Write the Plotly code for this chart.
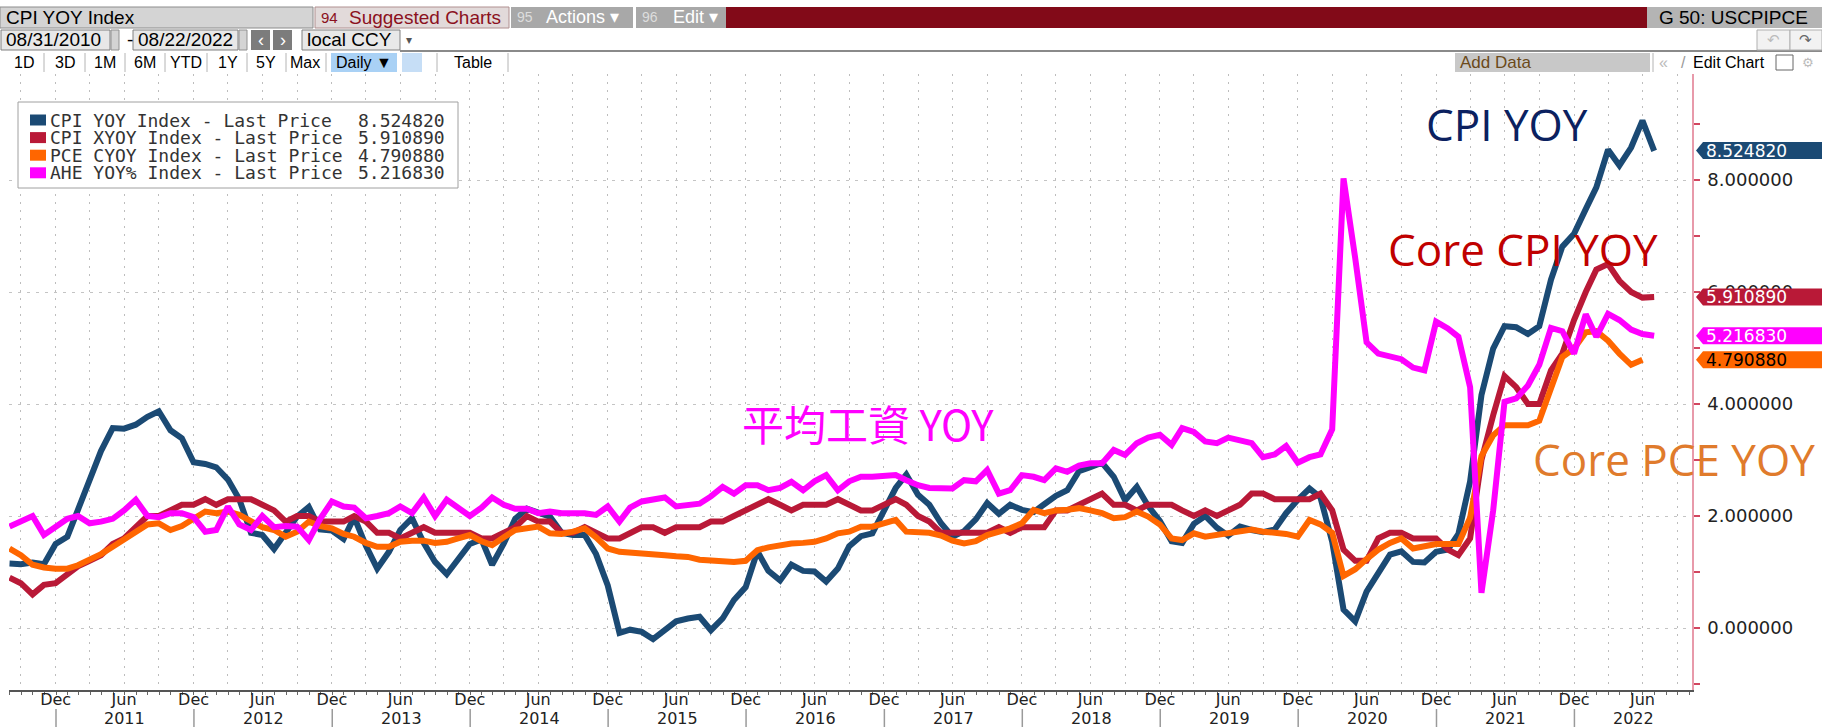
import plotly.graph_objects as go
import pandas as pd

# ---------------- data (monthly, month-end) ----------------
START = "2010-08-31"
CPI_YOY = [1.15, 1.14, 1.17, 1.14, 1.50,
           1.63, 2.11, 2.68, 3.16, 3.57, 3.56, 3.63, 3.77, 3.87, 3.53, 3.39, 2.96,
           2.93, 2.87, 2.65, 2.30, 1.70, 1.66, 1.41, 1.69, 1.99, 2.16, 1.76, 1.74,
           1.59, 1.98, 1.47, 1.06, 1.36, 1.75, 1.96, 1.52, 1.18, 0.96, 1.24, 1.50,
           1.58, 1.13, 1.51, 1.95, 2.13, 2.07, 1.99, 1.70, 1.66, 1.66, 1.32, 0.76,
           -0.09, -0.03, -0.07, -0.20, -0.04, 0.12, 0.17, 0.20, -0.04, 0.17, 0.50, 0.73,
           1.37, 1.02, 0.85, 1.13, 1.02, 1.01, 0.83, 1.06, 1.46, 1.64, 1.69, 2.07,
           2.50, 2.74, 2.38, 2.20, 1.87, 1.63, 1.73, 1.94, 2.23, 2.04, 2.20, 2.11,
           2.07, 2.21, 2.36, 2.46, 2.80, 2.87, 2.95, 2.70, 2.28, 2.52, 2.18, 1.91,
           1.55, 1.52, 1.86, 2.00, 1.79, 1.65, 1.81, 1.75, 1.71, 1.76, 2.05, 2.29,
           2.49, 2.33, 1.54, 0.33, 0.12, 0.65, 0.99, 1.31, 1.37, 1.18, 1.17, 1.36,
           1.40, 1.68, 2.62, 4.16, 4.99, 5.39, 5.37, 5.25, 5.39, 6.22, 6.81, 7.04,
           7.48, 7.87, 8.54, 8.26, 8.58, 9.06, 8.52]
CORE_CPI = [0.90, 0.80, 0.60, 0.77, 0.80,
            0.95, 1.10, 1.20, 1.30, 1.50, 1.60, 1.80, 2.00, 2.00, 2.10, 2.20, 2.20,
            2.30, 2.20, 2.30, 2.30, 2.30, 2.20, 2.10, 1.90, 2.00, 2.00, 1.90, 1.90,
            1.90, 2.00, 1.90, 1.70, 1.70, 1.60, 1.70, 1.80, 1.70, 1.70, 1.70, 1.70,
            1.60, 1.60, 1.70, 1.80, 2.00, 1.90, 1.90, 1.70, 1.70, 1.80, 1.70, 1.60,
            1.60, 1.70, 1.80, 1.80, 1.70, 1.80, 1.80, 1.80, 1.90, 1.90, 2.00, 2.10,
            2.20, 2.30, 2.20, 2.10, 2.20, 2.20, 2.20, 2.30, 2.20, 2.10, 2.10, 2.20,
            2.30, 2.20, 2.00, 1.90, 1.70, 1.70, 1.70, 1.70, 1.70, 1.80, 1.70, 1.80,
            1.80, 1.80, 2.10, 2.10, 2.20, 2.30, 2.40, 2.20, 2.20, 2.10, 2.20, 2.20,
            2.20, 2.10, 2.00, 2.10, 2.00, 2.10, 2.20, 2.40, 2.40, 2.30, 2.30, 2.30,
            2.30, 2.40, 2.10, 1.40, 1.20, 1.20, 1.60, 1.70, 1.70, 1.60, 1.60, 1.60,
            1.40, 1.30, 1.60, 3.00, 3.80, 4.50, 4.30, 4.00, 4.00, 4.60, 4.90, 5.50,
            6.00, 6.40, 6.50, 6.20, 6.00, 5.90, 5.91]
CORE_PCE = [1.42, 1.30, 1.13, 1.08, 1.06,
            1.06, 1.12, 1.22, 1.32, 1.45, 1.58, 1.72, 1.85, 1.87, 1.75, 1.82, 1.95,
            2.08, 2.05, 2.08, 2.02, 1.92, 1.80, 1.75, 1.63, 1.72, 1.90, 1.82, 1.78,
            1.68, 1.63, 1.52, 1.45, 1.45, 1.54, 1.56, 1.56, 1.52, 1.54, 1.60, 1.66,
            1.55, 1.48, 1.62, 1.75, 1.78, 1.81, 1.69, 1.68, 1.72, 1.78, 1.62, 1.42,
            1.36, 1.35, 1.34, 1.33, 1.30, 1.28, 1.27, 1.22, 1.21, 1.19, 1.18, 1.20,
            1.39, 1.44, 1.48, 1.51, 1.52, 1.54, 1.60, 1.69, 1.72, 1.81, 1.81, 1.86,
            1.93, 1.72, 1.72, 1.70, 1.65, 1.56, 1.51, 1.55, 1.66, 1.72, 1.78, 1.87,
            2.11, 2.05, 2.10, 2.11, 2.14, 2.10, 2.05, 1.96, 1.98, 2.08, 1.99, 1.85,
            1.60, 1.57, 1.69, 1.63, 1.66, 1.70, 1.72, 1.76, 1.72, 1.70, 1.68, 1.63,
            1.93, 1.85, 1.70, 0.93, 1.05, 1.23, 1.40, 1.52, 1.60, 1.42, 1.45, 1.50,
            1.50, 1.50, 1.97, 3.07, 3.44, 3.62, 3.62, 3.62, 3.70, 4.30, 4.84, 4.99,
            5.28, 5.30, 5.13, 4.90, 4.70, 4.79]
AHE_YOY = [1.81, 1.90, 2.00, 1.66, 1.80,
           1.95, 2.00, 1.87, 1.90, 1.95, 2.10, 2.29, 2.00, 1.98, 2.05, 2.05, 1.98,
           1.72, 1.75, 2.17, 1.85, 1.75, 2.00, 1.80, 1.82, 1.81, 1.57, 1.95, 2.26,
           2.17, 2.15, 1.96, 2.00, 2.05, 2.17, 2.05, 2.33, 2.00, 2.29, 2.15, 2.00,
           2.15, 2.33, 2.20, 2.13, 2.13, 2.05, 2.08, 2.05, 2.05, 2.05, 2.02, 2.17,
           1.90, 2.15, 2.26, 2.30, 2.33, 2.17, 2.20, 2.22, 2.35, 2.52, 2.40, 2.55,
           2.55, 2.46, 2.50, 2.61, 2.46, 2.62, 2.73, 2.46, 2.62, 2.70, 2.70, 2.71,
           2.73, 2.64, 2.55, 2.50, 2.50, 2.49, 2.64, 2.62, 2.82, 2.40, 2.46, 2.73,
           2.70, 2.64, 2.85, 2.79, 2.90, 2.94, 2.94, 3.18, 3.09, 3.30, 3.40, 3.45,
           3.27, 3.57, 3.50, 3.33, 3.30, 3.40, 3.35, 3.30, 3.05, 3.10, 3.25, 2.95,
           3.05, 3.10, 3.55, 8.03, 6.60, 5.10, 4.90, 4.85, 4.80, 4.65, 4.60, 5.47,
           5.35, 5.20, 4.30, 0.63, 2.10, 4.04, 4.10, 4.33, 4.70, 5.36, 5.30, 4.90,
           5.60, 5.20, 5.61, 5.50, 5.33, 5.25, 5.22]

SERIES_NAMES = ["CPI YOY Index - Last Price", "CPI XYOY Index - Last Price",
                "PCE CYOY Index - Last Price", "AHE YOY% Index - Last Price"]
LAST_PRICES = [8.524820, 5.910890, 4.790880, 5.216830]
COLORS = ["#1b4a74", "#b91937", "#ff6600", "#ff00ff"]
TAG_TEXT_COLORS = ["#ffffff", "#ffffff", "#000000", "#ffffff"]
Y_TICKS = [0, 2, 4, 6, 8]
Y_MINOR = [-1, 1, 3, 5, 7, 9]
YEARS = list(range(2011, 2023))
ANNOTS = [("CPI YOY", "#0b2160"), ("Core CPI YOY", "#c00000"),
          ("Core PCE YOY", "#e07b2c"), ("平均工資 YOY", "#ff00ff")]
BUTTONS = ["1D", "3D", "1M", "6M", "YTD", "1Y", "5Y", "Max"]

# ---------------- geometry ----------------
W, H = 1822, 727
L, R, T, B = 9, 1692, 74, 690
X_REF_PX, X_REF_DATE, PX_PER_YEAR = 56.0, pd.Timestamp("2011-01-01"), 138.03
PX_PER_DAY = PX_PER_YEAR / 365.25
Y0_PX, PX_PER_UNIT = 628.0, 56.0

x_start = X_REF_DATE + pd.Timedelta(days=(L - X_REF_PX) / PX_PER_DAY)
x_end = X_REF_DATE + pd.Timedelta(days=(R - X_REF_PX) / PX_PER_DAY)
y_lo = (Y0_PX - B) / PX_PER_UNIT
y_hi = (Y0_PX - T) / PX_PER_UNIT


def fx(px):
    return (px - L) / (R - L)


def fy(py):
    return (B - py) / (B - T)


dates = pd.date_range(START, periods=len(CPI_YOY), freq=pd.offsets.MonthEnd())

fig = go.Figure()
for vals, col in zip([CPI_YOY, CORE_CPI, CORE_PCE, AHE_YOY], COLORS):
    fig.add_trace(go.Scatter(x=dates[:len(vals)], y=vals, mode="lines",
                             line=dict(color=col, width=6),
                             hoverinfo="skip", showlegend=False))

shapes = []
annotations = []


def rect(x0, y0, x1, y1, fill, border=None, bw=1):
    shapes.append(dict(type="rect", xref="paper", yref="paper",
                       x0=fx(x0), x1=fx(x1), y0=fy(y1), y1=fy(y0),
                       fillcolor=fill, layer="above",
                       line=dict(width=bw if border else 0, color=border or fill)))


def hline(x0, x1, y, color, w=1):
    shapes.append(dict(type="line", xref="paper", yref="paper",
                       x0=fx(x0), x1=fx(x1), y0=fy(y), y1=fy(y),
                       line=dict(color=color, width=w), layer="above"))


def vline(x, y0, y1, color, w=1):
    shapes.append(dict(type="line", xref="paper", yref="paper",
                       x0=fx(x), x1=fx(x), y0=fy(y0), y1=fy(y1),
                       line=dict(color=color, width=w), layer="above"))


def text(px, py, s, size, color, family="Liberation Sans", anchor="left"):
    annotations.append(dict(xref="paper", yref="paper", x=fx(px), y=fy(py),
                            text=s, showarrow=False, xanchor=anchor, yanchor="middle",
                            font=dict(size=size, color=color, family=family),
                            borderpad=0))


TB = "Liberation Sans"
# ---- toolbar row 1 ----
r1a, r1b = 7, 28
c1 = (r1a + r1b) / 2
rect(0, r1a, 313, r1b, "#d4d4d4", "#8c8c8c")
text(5, c1, "CPI YOY Index", 19, "#000000", TB)
rect(315, r1a, 509, r1b, "#e2dada", "#b09090")
text(320, c1, "94", 15, "#8b1020", TB)
text(348, c1, "Suggested Charts", 19, "#8b1020", TB)
rect(511, r1a, 633, r1b, "#a8a8a8")
text(516, c1, "95", 14, "#dddddd", TB)
text(545, c1, "Actions ▾", 18, "#ffffff", TB)
rect(636, r1a, 726, r1b, "#a8a8a8")
text(641, c1, "96", 14, "#dddddd", TB)
text(672, c1, "Edit ▾", 18, "#ffffff", TB)
rect(726, r1a, 1647, r1b, "#820a18")
rect(1647, r1a, 1822, r1b, "#b4b4b4")
text(1658, c1, "G 50: USCPIPCE", 19, "#000000", TB)

# ---- toolbar row 2 ----
r2a, r2b = 30, 50
c2 = (r2a + r2b) / 2
rect(1, r2a, 110, r2b, "#e8e8e8", "#808080")
text(5, c2, "08/31/2010", 19, "#000000", TB)
rect(111, r2a, 119, r2b, "#d4d4d4", "#909090")
text(126, c2, "-", 19, "#000000", TB)
rect(133, r2a, 238, r2b, "#e8e8e8", "#808080")
text(137, c2, "08/22/2022", 19, "#000000", TB)
rect(239, r2a, 247, r2b, "#d4d4d4", "#909090")
rect(251, r2a, 270, r2b, "#7c7c7c")
text(260.5, c2, "‹", 18, "#ffffff", TB, "center")
rect(273, r2a, 292, r2b, "#7c7c7c")
text(282.5, c2, "›", 18, "#ffffff", TB, "center")
rect(302, r2a, 400, r2b, "#e8e8e8", "#808080")
text(306, c2, "local CCY", 19, "#000000", TB)
text(409, c2, "▾", 12, "#555555", TB, "center")
hline(400, 1822, 51, "#8a8a8a", 2)
rect(1757, r2a, 1790, r2b, "#f2f2f2", "#b0b0b0")
text(1773, c2, "↶", 15, "#bbbbbb", "DejaVu Sans", "center")
rect(1790, r2a, 1822, r2b, "#f2f2f2", "#b0b0b0")
text(1806, c2, "↷", 15, "#666666", "DejaVu Sans", "center")

# ---- toolbar row 3 ----
r3a, r3b = 53, 72
c3 = (r3a + r3b) / 2
centers = [24, 65, 105, 145, 186, 228, 266, 305]
for sx in [44, 85, 125, 165, 207, 247, 286, 326, 437, 508]:
    vline(sx, r3a, r3b, "#b4b4b4")
for lab, cx in zip(BUTTONS, centers):
    text(cx, c3, lab, 16, "#000000", TB, "center")
rect(331, r3a, 397, r3b, "#a9d1f5")
text(364, c3, "Daily ▼", 16, "#000000", TB, "center")
rect(402, r3a, 422, r3b, "#c6def6")
text(473, c3, "Table", 16, "#000000", TB, "center")
rect(1455, r3a, 1650, r3b, "#c8c8c8")
text(1459, c3, "Add Data", 17, "#6b4a1a", TB)
vline(1653, r3a, r3b, "#b4b4b4")
text(1663, c3, "«", 16, "#bbbbbb", TB, "center")
text(1683, c3, "/", 16, "#999999", TB, "center")
text(1692, c3, "Edit Chart", 16, "#000000", TB)
rect(1776, r3a + 2, 1793, r3b - 2, "#ffffff", "#666666")
text(1808, c3, "⚙", 13, "#bbbbbb", "DejaVu Sans", "center")

# ---- legend box ----
rect(18, 102, 458, 188, "#ffffff", "#a0a0a0")
for i, (name, val, col) in enumerate(zip(SERIES_NAMES, LAST_PRICES, COLORS)):
    cy = 120 + i * 17.6
    rect(30, cy - 5.5, 46, cy + 5.5, col)
    text(49, cy, name, 18, "#333333", "DejaVu Sans Mono")
    text(446, cy, f"{val:.6f}", 18, "#333333", "DejaVu Sans Mono", "right")

# ---- value tags on the right axis ----
half = 8.5 / PX_PER_UNIT
for val, col, tcol in zip(LAST_PRICES, COLORS, TAG_TEXT_COLORS):
    xa, xb, xc = fx(1696), fx(1703), fx(1822)
    path = (f"M {xa},{val} L {xb},{val + half} L {xc},{val + half} "
            f"L {xc},{val - half} L {xb},{val - half} Z")
    shapes.append(dict(type="path", xref="paper", yref="y", path=path,
                       fillcolor=col, line=dict(width=0), layer="above"))
    annotations.append(dict(xref="paper", yref="y", x=fx(1705), y=val,
                            text=f"{val:.6f}", showarrow=False, xanchor="left",
                            yanchor="middle", borderpad=0,
                            font=dict(size=17, color=tcol, family="DejaVu Sans")))

# ---- big annotations ----
ann_pos = [(1425, 124), (1387, 249), (1532, 459), (741, 423)]
for (s, col), (px, py) in zip(ANNOTS, ann_pos):
    fam = "Noto Sans CJK TC" if "工" in s else "Open Sans"
    size = 42 if "工" in s else 44
    text(px, py, s, size, col, fam)

# ---- x axis year labels & separators ----
for yr in YEARS:
    jan1 = pd.Timestamp(f"{yr}-01-01")
    nxt = min(pd.Timestamp(f"{yr + 1}-01-01"), x_end)
    mid = jan1 + (nxt - jan1) / 2
    annotations.append(dict(xref="x", yref="paper", x=mid, y=fy(718),
                            text=str(yr), showarrow=False, xanchor="center",
                            yanchor="middle", borderpad=0,
                            font=dict(size=16, color="#222222", family="DejaVu Sans")))
    shapes.append(dict(type="line", xref="x", yref="paper", x0=jan1, x1=jan1,
                       y0=fy(709), y1=fy(727), line=dict(color="#9a9a9a", width=1.5)))

qends = pd.date_range("2010-09-30", "2022-09-30", freq=pd.offsets.QuarterEnd())
qtext = ["Dec" if d.month == 12 else ("Jun" if d.month == 6 else "") for d in qends]

fig.update_layout(
    width=W, height=H, autosize=False,
    margin=dict(l=L, r=W - R, t=T, b=H - B, pad=0),
    paper_bgcolor="#ffffff", plot_bgcolor="#ffffff",
    showlegend=False, shapes=shapes, annotations=annotations,
    xaxis=dict(type="date", range=[x_start, x_end], tickmode="array",
               tickvals=list(qends), ticktext=qtext, ticks="",
               showgrid=True, gridcolor="#bdbdbd", gridwidth=1, griddash="2px,6px",
               showline=True, linecolor="#555555", linewidth=1.5, zeroline=False,
               tickfont=dict(size=16, color="#222222", family="DejaVu Sans"),
               minor=dict(dtick="M1", tick0="2010-09-01", ticks="outside",
                          ticklen=3, tickcolor="#666666", showgrid=False),
               ticklabelstandoff=-6, fixedrange=True),
    yaxis=dict(side="right", range=[y_lo, y_hi], tickmode="array",
               tickvals=Y_TICKS, tickformat=".6f", ticks="outside", ticklen=6,
               tickwidth=2, tickcolor="#d2465f",
               showline=True, linecolor="#e89aaa", linewidth=1.5, zeroline=False,
               showgrid=True, gridcolor="#c4c4c4", gridwidth=1, griddash="3px,6px",
               tickfont=dict(size=18, color="#222222", family="DejaVu Sans"),
               minor=dict(tickmode="array", tickvals=Y_MINOR, ticks="outside",
                          ticklen=6, tickwidth=1.5, tickcolor="#d2465f", showgrid=False),
               ticklabelstandoff=4, fixedrange=True),
)

fig.write_html("out.html",
               config={"displayModeBar": False, "staticPlot": False},
               post_script="document.body.style.margin='0px';"
                           "document.body.style.overflow='hidden';")
